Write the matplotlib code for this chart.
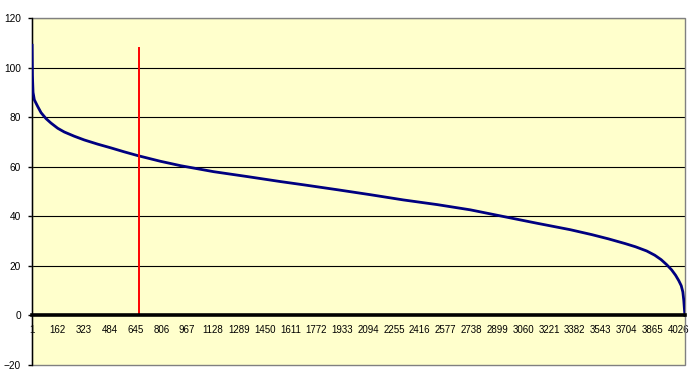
import matplotlib
matplotlib.use('Agg')
import matplotlib.pyplot as plt
from matplotlib.patches import Rectangle

# values (rank -> value)
rank = [1, 3, 7, 15, 36, 57, 88, 119, 161, 202, 264, 326, 410, 492, 575,
        658, 800, 927, 1132, 1344, 1549, 1692, 1904, 2109, 2314, 2526, 2731,
        2938, 3146, 3353, 3488, 3591, 3695, 3760, 3830, 3880, 3920, 3954,
        3985, 4010, 4030, 4045, 4055, 4061, 4065, 4068]
value = [109, 97, 90, 87, 84.3, 81.8, 79.4, 77.6, 75.5, 74, 72.3, 70.8, 69.1,
         67.6, 66, 64.5, 62.2, 60.4, 58, 56, 54, 52.7, 50.7, 48.7, 46.6, 44.7,
         42.6, 39.9, 37.2, 34.6, 32.6, 30.9, 29, 27.7, 26, 24.3, 22.5, 20.5,
         18.4, 16.2, 14, 12, 9.5, 6, 2.5, 0]

n_points = 4068
marker_rank = 667
marker_top = 108
x_ticks = list(range(1, 4027, 161))
y_ticks = [-20, 0, 20, 40, 60, 80, 100, 120]

plt.rcParams['font.family'] = ['Liberation Sans', 'DejaVu Sans']

fig = plt.figure(figsize=(7, 3.72), dpi=100)
ax = fig.add_axes([32 / 700, 7 / 372, 653 / 700, 347 / 372])
ax.set_facecolor('#FFFFCC')

ax.set_xlim(0.5, n_points + 0.5)
ax.set_ylim(-20, 120)

for y in y_ticks[2:]:
    ax.axhline(y, color='black', lw=0.8, zorder=1)

ax.plot(rank, value, color='#000080', lw=2, zorder=3, solid_joinstyle='round')
ax.plot([marker_rank, marker_rank], [0, marker_top], color='#FF0000', lw=1.4, zorder=4)

ax.spines['bottom'].set_position(('data', 0))
ax.spines['bottom'].set_linewidth(2.6)
ax.spines['bottom'].set_color('black')
ax.spines['bottom'].set_zorder(5)
ax.spines['left'].set_color('black')
ax.spines['left'].set_linewidth(1)
ax.spines['top'].set_visible(False)
ax.spines['right'].set_visible(False)
ax.add_patch(Rectangle((0, 0), 1, 1, transform=ax.transAxes, fill=False,
                       ec='#808080', lw=1, clip_on=False, zorder=2))

ax.set_xticks(x_ticks)
ax.set_xticklabels([str(t) for t in x_ticks])
ax.tick_params(axis='x', length=0, pad=7, labelsize=7)
ax.set_yticks(y_ticks)
ax.tick_params(axis='y', length=3, width=1, pad=5, labelsize=7.3)

plt.savefig('out.png', dpi=100)
